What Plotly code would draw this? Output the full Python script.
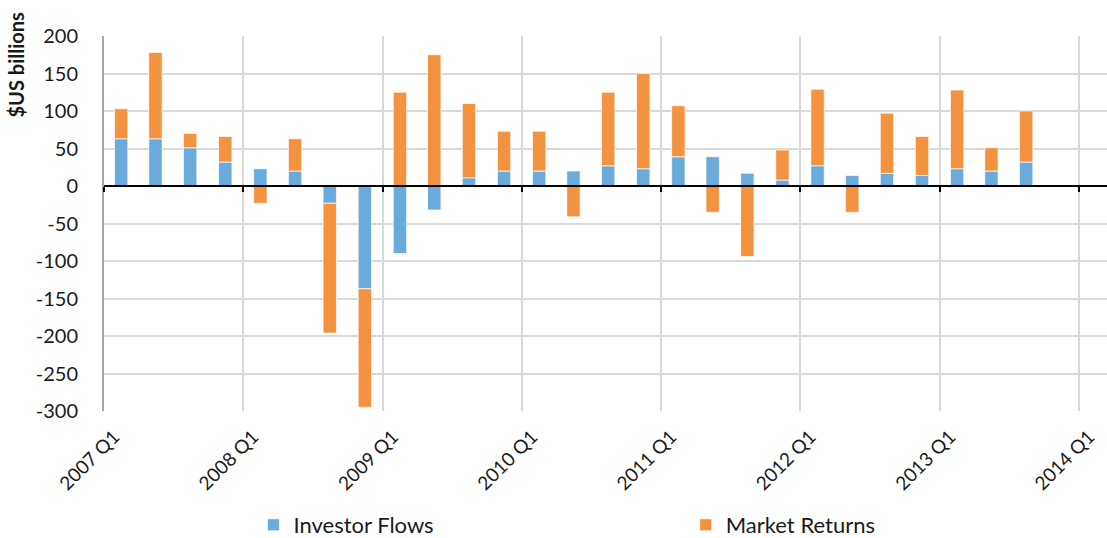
import pandas as pd
import plotly.graph_objects as go

# ---- data ----
quarters = ["2007Q1", "2007Q2", "2007Q3", "2007Q4",
            "2008Q1", "2008Q2", "2008Q3", "2008Q4",
            "2009Q1", "2009Q2", "2009Q3", "2009Q4",
            "2010Q1", "2010Q2", "2010Q3", "2010Q4",
            "2011Q1", "2011Q2", "2011Q3", "2011Q4",
            "2012Q1", "2012Q2", "2012Q3", "2012Q4",
            "2013Q1", "2013Q2", "2013Q3"]
investor_flows = [63, 63, 51, 32, 23, 20, -23, -137, -90, -32, 11, 20, 20, 20,
                  27, 23, 39, 39, 17, 8, 27, 14, 17, 14, 23, 20, 32]
market_returns = [40, 115, 19, 34, -23, 43, -173, -158, 125, 175, 99, 53, 53, -41,
                  98, 127, 68, -35, -94, 40, 102, -35, 80, 52, 105, 31, 68]
tick_years = ["2007", "2008", "2009", "2010", "2011", "2012", "2013", "2014"]
tick_labels = [y + " Q1" for y in tick_years]
y_ticks = [200, 150, 100, 50, 0, -50, -100, -150, -200, -250, -300]
y_tick_text = ["200", "150", "100", "50", "0", "-50", "-100", "-150", "-200", "-250", "-300"]

# mid-quarter dates on a date axis
x_dates = [pd.Period(q, freq="Q").start_time + pd.Timedelta(days=45) for q in quarters]
tick_vals = [pd.Timestamp(y + "-01-01") for y in tick_years]
x_range = ["2007-01-01", "2014-03-15"]

BLUE = "#6BABDC"
ORANGE = "#F3923F"
FONT = "Lato"
TXT = "#1a1a1a"
bar_w = 35 * 86400000

fig = go.Figure()
fig.add_trace(go.Bar(x=x_dates, y=investor_flows, name="Investor Flows",
                     marker=dict(color=BLUE, line=dict(color="rgba(255,255,255,0.7)", width=1)),
                     width=bar_w, legend="legend"))
fig.add_trace(go.Bar(x=x_dates, y=market_returns, name="Market Returns",
                     marker=dict(color=ORANGE, line=dict(color="rgba(255,255,255,0.7)", width=1)),
                     width=bar_w, legend="legend2"))
# empty helper trace so the zero-crossing axis is drawn
fig.add_trace(go.Scatter(x=[], y=[], xaxis="x2", yaxis="y", showlegend=False))

legend_common = dict(orientation="h", y=-0.304, yanchor="middle",
                     font=dict(size=22, family=FONT, color=TXT),
                     itemclick=False, itemdoubleclick=False,
                     bgcolor="rgba(0,0,0,0)")

fig.update_layout(
    width=1107, height=538,
    barmode="relative",
    paper_bgcolor="white", plot_bgcolor="white",
    margin=dict(l=104, r=0, t=36, b=127, autoexpand=False),
    font=dict(family=FONT, color=TXT),
    showlegend=True,
    legend=dict(x=0.149, xanchor="left", **legend_common),
    legend2=dict(x=0.580, xanchor="left", **legend_common),
    xaxis=dict(type="date", range=x_range, tickmode="array", tickvals=tick_vals,
               ticktext=tick_labels, tickangle=-45, showgrid=True,
               gridcolor="#d9d9d9", gridwidth=1.5, showline=False, ticks="",
               ticklabelshift=10, ticklabelstandoff=10,
               tickfont=dict(size=19, family=FONT, color=TXT),
               zeroline=False, automargin=False),
    xaxis2=dict(type="date", overlaying="x", matches="x", range=x_range,
                anchor="free", position=0.6, side="bottom",
                tickmode="array", tickvals=tick_vals, showticklabels=False,
                showgrid=False, showline=True, linecolor="black", linewidth=2,
                ticks="outside", ticklen=5, tickwidth=2, tickcolor="black",
                layer="above traces", zeroline=False, automargin=False),
    yaxis=dict(range=[-300, 200], tickmode="array", tickvals=y_ticks,
               ticktext=y_tick_text,
               showgrid=True, gridcolor="#d9d9d9", gridwidth=1.5,
               showline=True, linecolor="#a6a6a6", linewidth=2,
               zeroline=False, ticks="", ticklabelstandoff=20,
               tickfont=dict(size=20, family=FONT, color=TXT), automargin=False),
    annotations=[dict(text="<b>$US billions</b>", textangle=-90,
                      xref="paper", yref="paper", x=-0.088, y=1.07,
                      xanchor="center", yanchor="top", showarrow=False,
                      font=dict(size=20, family=FONT, color=TXT))],
)

fig.write_html("out.html", config={"displayModeBar": False},
               post_script="document.body.style.margin='0';document.body.style.padding='0';")
